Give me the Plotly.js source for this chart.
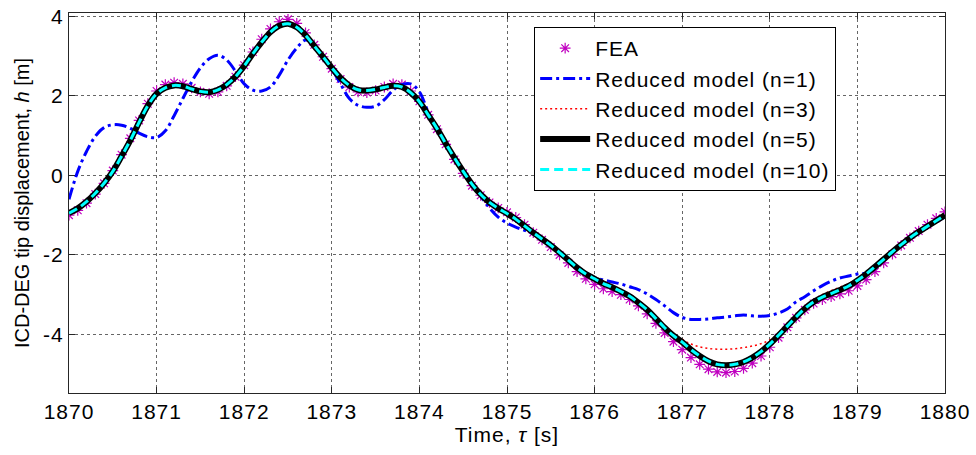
<!DOCTYPE html>
<html>
<head>
<meta charset="utf-8">
<script src="https://cdn.plot.ly/plotly-3.0.1.min.js"></script>
<style>
html, body { margin: 0; padding: 0; background: #ffffff; }
#chart { width: 976px; height: 455px; }
text.legendtext, .xtick text, .ytick text, text.xtitle { letter-spacing: 1px; }
</style>
</head>
<body>
<div id="chart"></div>
<script>
// Time grid, 0.1 s steps from 1870 to 1880
const timeS = [];
for (let i = 0; i <= 100; i++) timeS.push(+(1870 + i * 0.1).toFixed(1));

// FEA reference (asterisks)
const feaH = [
  -1.00,-0.88,-0.70,-0.47,-0.20, 0.12, 0.52, 0.93, 1.38, 1.80,
   2.12, 2.28, 2.33, 2.30, 2.20, 2.10, 2.05, 2.10, 2.25, 2.48,
   2.77, 3.10, 3.42, 3.68, 3.86, 3.92, 3.82, 3.58, 3.28, 2.98,
   2.68, 2.42, 2.22, 2.10, 2.08, 2.13, 2.22, 2.30, 2.28, 2.12,
   1.86, 1.52, 1.16, 0.78, 0.40, 0.05,-0.26,-0.50,-0.68,-0.82,
  -0.93,-1.06,-1.24,-1.44,-1.62,-1.80,-2.00,-2.20,-2.42,-2.60,
  -2.74,-2.85,-2.92,-3.00,-3.12,-3.28,-3.48,-3.72,-3.96,-4.18,
  -4.38,-4.58,-4.75,-4.87,-4.94,-4.96,-4.93,-4.85,-4.72,-4.54,
  -4.32,-4.08,-3.82,-3.58,-3.38,-3.22,-3.12,-3.05,-2.98,-2.90,
  -2.78,-2.62,-2.42,-2.20,-1.98,-1.76,-1.57,-1.40,-1.24,-1.08,
  -0.92
];

// Reduced model n=1 (blue dash-dot)
const redN1 = [
  -0.60, 0.10, 0.60, 0.98, 1.20, 1.27, 1.26, 1.18, 1.06, 0.97,
   0.95, 1.12, 1.50, 1.93, 2.35, 2.70, 2.93, 3.02, 2.90, 2.62,
   2.30, 2.14, 2.12, 2.22, 2.52, 2.90, 3.20, 3.40, 3.28, 3.00,
   2.68, 2.30, 1.93, 1.76, 1.71, 1.74, 1.90, 2.14, 2.28, 2.30,
   2.10, 1.60, 1.20, 0.80, 0.44, 0.10,-0.24,-0.52,-0.82,-1.05,
  -1.20,-1.30,-1.38,-1.47,-1.60,-1.76,-1.94,-2.12,-2.30,-2.44,
  -2.57,-2.63,-2.68,-2.73,-2.80,-2.87,-2.98,-3.12,-3.28,-3.45,
  -3.57,-3.62,-3.62,-3.61,-3.58,-3.56,-3.53,-3.51,-3.53,-3.54,
  -3.52,-3.46,-3.36,-3.18,-3.05,-2.90,-2.77,-2.66,-2.58,-2.53,
  -2.48,-2.45,-2.32,-2.12,-1.93,-1.75,-1.58,-1.43,-1.30,-1.17,
  -1.04
];

// Reduced model n=3 (red dotted)
const redN3 = [
  -0.95,-0.83,-0.66,-0.45,-0.20, 0.10, 0.48, 0.88, 1.33, 1.75,
   2.05, 2.20, 2.26, 2.24, 2.17, 2.11, 2.09, 2.15, 2.28, 2.48,
   2.75, 3.06, 3.35, 3.60, 3.76, 3.81, 3.72, 3.52, 3.25, 2.98,
   2.70, 2.45, 2.26, 2.15, 2.13, 2.16, 2.21, 2.25, 2.22, 2.08,
   1.85, 1.52, 1.18, 0.80, 0.44, 0.10,-0.22,-0.48,-0.68,-0.83,
  -0.96,-1.10,-1.27,-1.44,-1.60,-1.76,-1.94,-2.13,-2.32,-2.46,
  -2.55,-2.66,-2.77,-2.89,-3.02,-3.18,-3.36,-3.58,-3.80,-3.98,
  -4.12,-4.24,-4.31,-4.35,-4.37,-4.37,-4.36,-4.33,-4.29,-4.23,
  -4.14,-3.99,-3.78,-3.55,-3.34,-3.14,-3.00,-2.90,-2.81,-2.72,
  -2.60,-2.47,-2.30,-2.11,-1.92,-1.74,-1.57,-1.42,-1.28,-1.14,
  -1.00
];

// Reduced model n=5 (black solid)
const redN5 = [
  -0.95,-0.83,-0.66,-0.45,-0.20, 0.10, 0.48, 0.88, 1.33, 1.75,
   2.05, 2.20, 2.26, 2.24, 2.17, 2.11, 2.09, 2.15, 2.28, 2.48,
   2.75, 3.06, 3.35, 3.60, 3.76, 3.81, 3.72, 3.52, 3.25, 2.98,
   2.70, 2.45, 2.26, 2.15, 2.13, 2.16, 2.21, 2.25, 2.22, 2.08,
   1.85, 1.52, 1.18, 0.80, 0.44, 0.10,-0.22,-0.48,-0.68,-0.83,
  -0.96,-1.10,-1.27,-1.44,-1.60,-1.76,-1.94,-2.13,-2.32,-2.48,
  -2.60,-2.72,-2.81,-2.92,-3.04,-3.20,-3.38,-3.60,-3.83,-4.03,
  -4.19,-4.38,-4.54,-4.67,-4.75,-4.77,-4.75,-4.69,-4.58,-4.43,
  -4.24,-4.02,-3.79,-3.56,-3.35,-3.18,-3.06,-2.97,-2.88,-2.78,
  -2.64,-2.48,-2.30,-2.11,-1.92,-1.74,-1.57,-1.42,-1.28,-1.14,
  -1.00
];

// Reduced model n=10 (cyan dashed)
const redN10 = [
  -0.95,-0.83,-0.66,-0.45,-0.20, 0.10, 0.48, 0.88, 1.33, 1.75,
   2.05, 2.20, 2.26, 2.24, 2.17, 2.11, 2.09, 2.15, 2.28, 2.48,
   2.75, 3.06, 3.35, 3.60, 3.76, 3.81, 3.72, 3.52, 3.25, 2.98,
   2.70, 2.45, 2.26, 2.15, 2.13, 2.16, 2.21, 2.25, 2.22, 2.08,
   1.85, 1.52, 1.18, 0.80, 0.44, 0.10,-0.22,-0.48,-0.68,-0.83,
  -0.96,-1.10,-1.27,-1.44,-1.60,-1.76,-1.94,-2.13,-2.32,-2.48,
  -2.60,-2.72,-2.81,-2.92,-3.04,-3.20,-3.38,-3.60,-3.83,-4.03,
  -4.19,-4.38,-4.54,-4.67,-4.75,-4.77,-4.75,-4.69,-4.58,-4.43,
  -4.24,-4.02,-3.79,-3.56,-3.35,-3.18,-3.06,-2.97,-2.88,-2.78,
  -2.64,-2.48,-2.30,-2.11,-1.92,-1.74,-1.57,-1.42,-1.28,-1.14,
  -1.00
];

const seriesNames = ['FEA', 'Reduced model (n=1)', 'Reduced model (n=3)', 'Reduced model (n=5)', 'Reduced model (n=10)'];
const xTickVals = [1870,1871,1872,1873,1874,1875,1876,1877,1878,1879,1880];
const yTickVals = [-4,-2,0,2,4];

const FONT = 'Liberation Sans, Arial, Helvetica, sans-serif';

const traces = [
  { x: timeS, y: feaH, name: seriesNames[0], mode: 'markers', type: 'scatter',
    marker: { symbol: 'asterisk-open', size: 9, color: '#c000c0', line: { color: '#c000c0', width: 1.2 } } },
  { x: timeS, y: redN1, name: seriesNames[1], mode: 'lines', type: 'scatter',
    line: { color: '#0000ff', width: 3, dash: '12px,4px,3px,4px', shape: 'spline' } },
  { x: timeS, y: redN3, name: seriesNames[2], mode: 'lines', type: 'scatter',
    line: { color: '#ff0000', width: 1.5, dash: '2px,3px', shape: 'spline' } },
  { x: timeS, y: redN5, name: seriesNames[3], mode: 'lines', type: 'scatter',
    line: { color: '#000000', width: 6, shape: 'spline' } },
  { x: timeS, y: redN10, name: seriesNames[4], mode: 'lines', type: 'scatter',
    line: { color: '#00ffff', width: 3, dash: '9px,5px', shape: 'spline' } }
];

const layout = {
  width: 976, height: 455,
  margin: { l: 69, r: 31, t: 13, b: 62 },
  paper_bgcolor: '#ffffff', plot_bgcolor: '#ffffff',
  font: { family: FONT, size: 20, color: '#000000' },
  showlegend: true,
  legend: {
    x: 0.531, y: 0.963, xanchor: 'left', yanchor: 'top',
    bgcolor: '#ffffff', bordercolor: '#000000', borderwidth: 1,
    font: { family: FONT, size: 21, color: '#000000' },
    itemwidth: 50, tracegroupgap: 0
  },
  xaxis: {
    range: [1870, 1880], tickvals: xTickVals, ticktext: xTickVals.map(String),
    showgrid: true, gridcolor: '#666666', griddash: 'dot', gridwidth: 1,
    zeroline: false, showline: true, linecolor: '#262626', linewidth: 1, mirror: 'ticks',
    ticks: 'inside', ticklen: 6, tickcolor: '#262626',
    tickfont: { family: FONT, size: 21 },
    title: { text: 'Time, <i>τ</i> [s]', font: { family: FONT, size: 21 }, standoff: 5 }
  },
  yaxis: {
    range: [-5.47, 4.08], tickvals: yTickVals, ticktext: yTickVals.map(String),
    showgrid: true, gridcolor: '#666666', griddash: 'dot', gridwidth: 1,
    zeroline: false, showline: true, linecolor: '#262626', linewidth: 1, mirror: 'ticks',
    ticks: 'inside', ticklen: 6, tickcolor: '#262626',
    tickfont: { family: FONT, size: 21 },
    title: { text: 'ICD-DEG tip displacement, <i>h</i> [m]', font: { family: FONT, size: 20 }, standoff: 8 }
  }
};

Plotly.newPlot('chart', traces, layout, { displayModeBar: false, staticPlot: true });
</script>
</body>
</html>
